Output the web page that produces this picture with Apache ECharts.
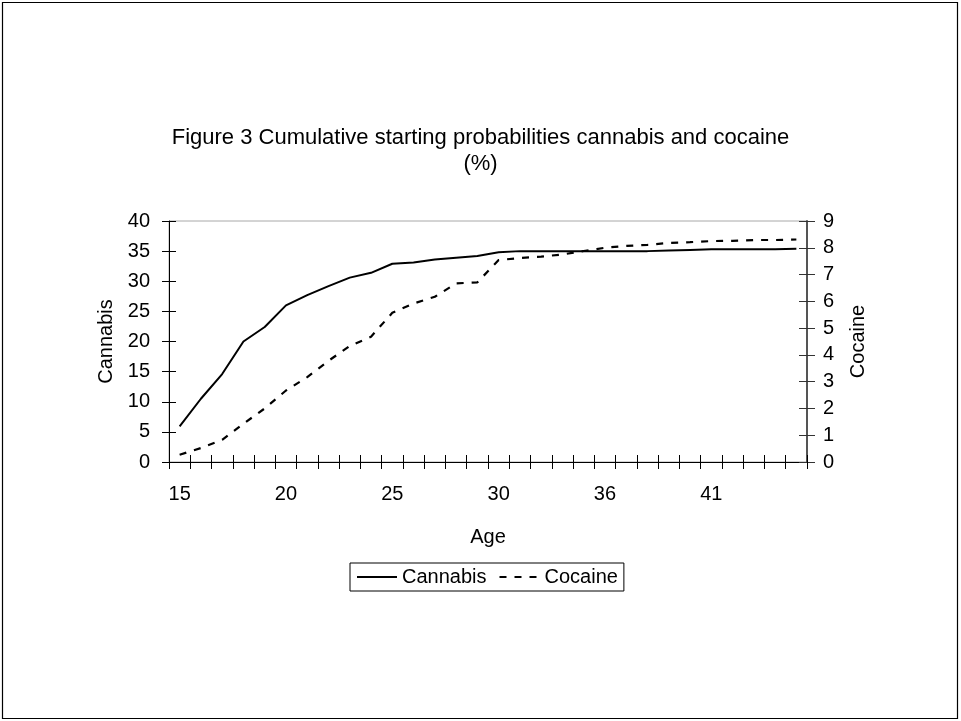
<!DOCTYPE html>
<html>
<head>
<meta charset="utf-8">
<script src="https://cdn.jsdelivr.net/npm/echarts@6/dist/echarts.min.js"></script>
<style>html,body{margin:0;padding:0;background:#fff;}#main{width:961px;height:721px;}</style>
</head>
<body>
<div id="main"></div>
<script>
var ages = ['15','16','17','18','19','20','21','22','23','24','25','26','27','28','29','30','31','32','33','34','36','37','38','39','40','41','42','43','44','45'];
var cannabis = [5.9,10.5,14.6,20.0,22.4,26.0,27.7,29.2,30.6,31.4,32.9,33.1,33.6,33.9,34.2,34.8,35.0,35.0,35.0,35.0,35.0,35.0,35.0,35.1,35.2,35.3,35.3,35.3,35.3,35.4];
var cocaine = [0.27,0.52,0.83,1.43,2.0,2.67,3.17,3.78,4.33,4.68,5.57,5.92,6.17,6.67,6.71,7.54,7.62,7.67,7.75,7.88,8.0,8.07,8.11,8.18,8.21,8.25,8.26,8.29,8.29,8.31];
var titleText = 'Figure 3 Cumulative starting probabilities cannabis and cocaine\n(%)';

var FONT = "'Liberation Sans', Arial, sans-serif";
var chart = echarts.init(document.getElementById('main'), null, {renderer:'canvas'});
chart.setOption({
  animation: false,
  backgroundColor: '#fff',
  textStyle: {fontFamily: FONT, color: '#000'},
  title: {
    text: titleText, left: 'center', top: 125, padding: 0,
    textStyle: {fontFamily: FONT, fontSize: 22, fontWeight: 'normal', color: '#000', lineHeight: 26}
  },
  legend: {
    left: 350, top: 563, padding: [4, 6, 4, 6],
    borderColor: '#000', borderWidth: 1,
    itemWidth: 40, itemHeight: 14, itemGap: 12,
    itemStyle: {opacity: 0},
    textStyle: {fontFamily: FONT, fontSize: 20, color: '#000'},
    data: ['Cannabis', 'Cocaine']
  },
  graphic: [{
    type: 'rect', shape: {x: 2.5, y: 2.5, width: 955, height: 716},
    style: {fill: null, stroke: '#000', lineWidth: 1.2}, silent: true
  }],
  grid: {left: 169, right: 154, top: 221, bottom: 259, show: true, borderColor: '#a8a8a8', borderWidth: 1, backgroundColor: 'transparent'},
  xAxis: [{
    type: 'category', data: ages, boundaryGap: true,
    name: 'Age', nameLocation: 'middle', nameGap: 65,
    nameTextStyle: {fontFamily: FONT, fontSize: 20, color: '#000'},
    axisLine: {lineStyle: {color: '#000', width: 1}},
    axisTick: {show: true, interval: 0, length: 7, lineStyle: {color: '#000'}},
    axisLabel: {interval: 4, margin: 22, fontFamily: FONT, fontSize: 20, color: '#000'},
    splitLine: {show: false}
  }, {
    type: 'category', data: ages, boundaryGap: true, position: 'bottom',
    axisLine: {show: false},
    axisTick: {show: true, inside: true, interval: 0, length: 7, lineStyle: {color: '#000'}},
    axisLabel: {show: false}, splitLine: {show: false}
  }],
  yAxis: [{
    type: 'value', min: 0, max: 40, interval: 5, position: 'left',
    name: 'Cannabis', nameLocation: 'middle', nameGap: 53, nameRotate: 90,
    nameTextStyle: {fontFamily: FONT, fontSize: 20, color: '#000'},
    axisLine: {show: true, lineStyle: {color: '#000', width: 1}},
    axisTick: {show: true, length: 7, lineStyle: {color: '#000'}},
    axisLabel: {margin: 19, fontFamily: FONT, fontSize: 20, color: '#000'},
    splitLine: {show: false}
  }, {
    type: 'value', min: 0, max: 9, interval: 1, position: 'right',
    name: 'Cocaine', nameLocation: 'middle', nameGap: 41, nameRotate: 90,
    nameTextStyle: {fontFamily: FONT, fontSize: 20, color: '#000'},
    axisLine: {show: true, lineStyle: {color: '#555', width: 2}},
    axisTick: {show: true, length: 8, lineStyle: {color: '#333'}},
    axisLabel: {margin: 16, fontFamily: FONT, fontSize: 20, color: '#000'},
    splitLine: {show: false}
  }, {
    type: 'value', min: 0, max: 40, interval: 5, position: 'left',
    axisLine: {show: false},
    axisTick: {show: true, inside: true, length: 7, lineStyle: {color: '#000'}},
    axisLabel: {show: false}, splitLine: {show: false}
  }, {
    type: 'value', min: 0, max: 9, interval: 1, position: 'right',
    axisLine: {show: false},
    axisTick: {show: true, inside: true, length: 8, lineStyle: {color: '#333'}},
    axisLabel: {show: false}, splitLine: {show: false}
  }],
  series: [{
    name: 'Cannabis', type: 'line', xAxisIndex: 0, yAxisIndex: 0,
    data: cannabis, symbol: 'none', smooth: false,
    lineStyle: {color: '#000', width: 2, type: 'solid'},
    itemStyle: {color: '#000'}
  }, {
    name: 'Cocaine', type: 'line', xAxisIndex: 0, yAxisIndex: 1,
    data: cocaine, symbol: 'none', smooth: false,
    lineStyle: {color: '#000', width: 2.2, type: [7, 8]},
    itemStyle: {color: '#000'}
  }]
});
</script>
</body>
</html>
